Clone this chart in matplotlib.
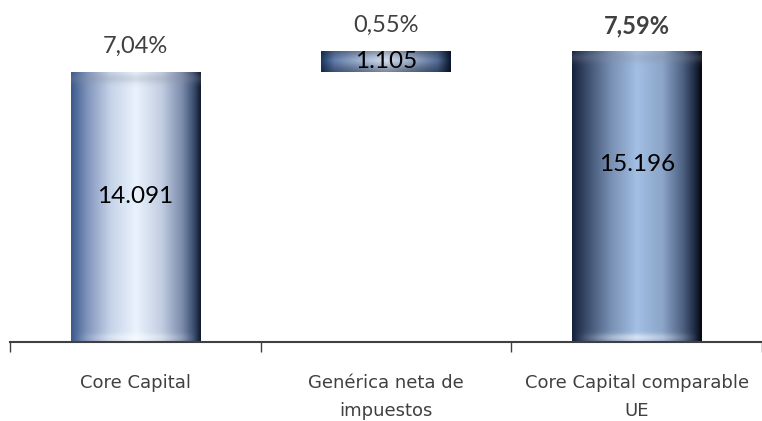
import matplotlib
matplotlib.use('Agg')
import matplotlib.pyplot as plt
import numpy as np
from matplotlib.colors import LinearSegmentedColormap, to_rgb

categories = ['Core Capital', 'Genérica neta de\nimpuestos', 'Core Capital comparable\nUE']
bottoms = [0, 14091, 0]
heights = [14091, 1105, 15196]
value_labels = ['14.091', '1.105', '15.196']
pct_labels = ['7,04%', '0,55%', '7,59%']
pct_bold = [False, False, True]
label_frac = [0.54, 0.5, 0.61]

light_stops = [(0.0, '#3a5a8c'), (0.12, '#7f93bb'), (0.3, '#c5d2e8'), (0.5, '#eaf3fd'),
               (0.7, '#c2cde2'), (0.86, '#7a8bab'), (0.95, '#3a4c6e'), (1.0, '#111c30')]
dark_stops = [(0.0, '#15223c'), (0.12, '#3e5070'), (0.3, '#7890b4'), (0.5, '#a3bfe3'),
              (0.7, '#8ba4c8'), (0.86, '#4c5f80'), (0.95, '#1d2a42'), (1.0, '#05080f')]
small_stops = [(0.0, '#1e3a66'), (0.1, '#5a76a6'), (0.5, '#b8c9e2'),
               (0.9, '#4a6490'), (1.0, '#0c1a30')]
bar_styles = [light_stops, small_stops, dark_stops]

W, H = 762, 421
fig = plt.figure(figsize=(W / 100, H / 100), dpi=100)
ax = fig.add_axes([10 / W, (H - 342) / H, (W - 10) / W, 326 / H])
ax.set_xlim(-0.5, -0.5 + 752 / 254.5)
ax.set_ylim(0, 17000)

x = np.arange(len(categories))
bars = ax.bar(x, heights, bottom=bottoms, width=0.515, color='none', edgecolor='none', zorder=2)

px_per_unit = ax.transData.transform((0, 1000))[1] - ax.transData.transform((0, 0))[1]
px_per_unit /= 1000.0

for rect, stops, h in zip(bars, bar_styles, heights):
    cmap = LinearSegmentedColormap.from_list('g', stops)
    ncol = 200
    hpx = max(int(h * px_per_unit), 2)
    row = cmap(np.linspace(0, 1, ncol))[:, :3]
    img = np.tile(row, (hpx, 1, 1))
    yy = np.arange(hpx)[:, None]
    # top highlight band
    hl = np.exp(-((yy - 4) / 4.0) ** 2) * 0.55
    if hpx < 40:
        hl = np.exp(-((yy - hpx * 0.55) / (hpx * 0.3)) ** 2) * 0.35
        dark = np.clip(1 - np.abs(yy - hpx * 0.5) / (hpx * 0.5), 0, 1)
        img = img * (0.7 + 0.3 * dark[..., None])
    xs = np.linspace(0, 1, ncol)[None, :]
    edge = np.clip(1 - np.abs(xs - 0.5) * 2.1, 0, 1)
    img = img + (hl * edge)[..., None] * (1 - img)
    # bottom soft gray
    if hpx >= 40:
        bot = np.exp(-((yy - (hpx - 8)) / 5.0) ** 2) * 0.25
        img = img * (1 - bot[..., None]) + np.array(to_rgb('#8a8e98')) * bot[..., None]
    img = np.clip(img, 0, 1)
    x0, y0 = rect.get_x(), rect.get_y()
    im = ax.imshow(img, extent=(x0, x0 + rect.get_width(), y0 + rect.get_height(), y0),
                   aspect='auto', interpolation='bilinear', zorder=2)
    im.set_clip_path(rect)

ax.set_ylim(0, 17000)
ax.set_xlim(-0.5, -0.5 + 752 / 254.5)

num_font = ['Lato', 'DejaVu Sans']
for i in range(len(categories)):
    top = bottoms[i] + heights[i]
    ax.annotate(pct_labels[i], (x[i], top), xytext=(0, 18), textcoords='offset points',
                ha='center', va='center', fontsize=17, color='#404040', family=num_font,
                fontweight='bold' if pct_bold[i] else 'normal')
    ax.text(x[i], bottoms[i] + heights[i] * label_frac[i], value_labels[i], ha='center',
            va='center', fontsize=17.5, color='black', family=num_font, zorder=3)

for s in ['top', 'left', 'right']:
    ax.spines[s].set_visible(False)
ax.spines['bottom'].set_color('#404040')
ax.spines['bottom'].set_linewidth(1.5)
ax.spines['bottom'].set_zorder(4)
ax.set_yticks([])
ax.set_xticks(x)
ax.set_xticklabels(categories, fontsize=13, color='#404040',
                   family=['Liberation Sans Narrow', 'DejaVu Sans'], linespacing=1.75)
ax.tick_params(axis='x', which='major', length=0, pad=23)
ax.set_xticks(np.arange(-0.5, 3, 1), minor=True)
ax.tick_params(axis='x', which='minor', length=7, width=1, color='#404040')

fig.savefig('out.png', dpi=100)
